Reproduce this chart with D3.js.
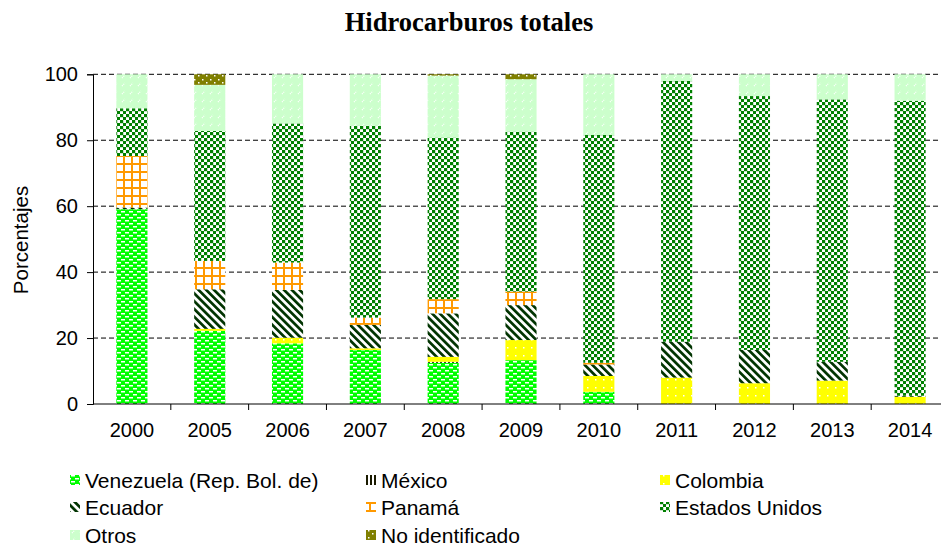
<!DOCTYPE html>
<html><head><meta charset="utf-8">
<script src="https://cdn.jsdelivr.net/npm/d3@7"></script>
<style>body{margin:0;background:#fff}svg{display:block}</style>
</head><body>
<svg id="c" width="941" height="548"></svg>
<script>
const years = ["2000","2005","2006","2007","2008","2009","2010","2011","2012","2013","2014"];
const venezuela = [59.1, 22.2, 18.4, 16.4, 12.5, 13.3, 3.7, 0, 0, 0, 0];
const mexico    = [0, 0, 0, 0, 0.3, 0, 0, 0, 0, 0, 0];
const colombia  = [0, 0.6, 1.7, 0.5, 1.5, 6.1, 4.8, 8.0, 6.3, 7.1, 2.2];
const ecuador   = [0.5, 12.0, 14.5, 7.1, 13.2, 10.6, 3.5, 10.9, 10.1, 5.7, 0.3];
const panama    = [15.6, 8.6, 8.3, 2.2, 4.3, 4.1, 0.5, 0, 0, 0, 0];
const eeuu      = [14.5, 39.4, 42.2, 58.2, 49.0, 48.5, 69.1, 79.1, 77.0, 79.6, 89.5];
const otros     = [10.3, 14.0, 14.9, 15.6, 18.8, 15.9, 18.4, 2.0, 6.6, 7.6, 8.0];
const noid      = [0, 3.2, 0, 0, 0.4, 1.5, 0, 0, 0, 0, 0];
const seriesNames = ["Venezuela (Rep. Bol. de)","México","Colombia","Ecuador","Panamá","Estados Unidos","Otros","No identificado"];
const seriesVals = [venezuela, mexico, colombia, ecuador, panama, eeuu, otros, noid];
const yTicks = [0,20,40,60,80,100];

const svg = d3.select("#c");
const defs = svg.append("defs");
function pat(id, w, h, bg, draw){
  const p = defs.append("pattern").attr("id",id).attr("patternUnits","userSpaceOnUse").attr("width",w).attr("height",h);
  p.append("rect").attr("width",w).attr("height",h).attr("fill",bg);
  draw(p); return p;
}
pat("p0",8,6,"#00ff00",p=>{
  p.append("rect").attr("x",1).attr("y",1).attr("width",4).attr("height",1.5).attr("fill","#fff");
  p.append("rect").attr("x",5).attr("y",4).attr("width",3).attr("height",1.5).attr("fill","#fff");
  p.append("rect").attr("x",0).attr("y",4).attr("width",1).attr("height",1.5).attr("fill","#fff");
});
pat("p1",4,4,"#fff",p=>{
  p.append("rect").attr("x",0).attr("y",0).attr("width",2).attr("height",4).attr("fill","#1a1a00");
});
pat("p2",8,8,"#ffff00",p=>{
  p.append("rect").attr("x",3).attr("y",3).attr("width",1.5).attr("height",1.5).attr("fill","#fff");
});
defs.append("pattern").attr("id","p3").attr("patternUnits","userSpaceOnUse").attr("width",5.5).attr("height",5.5)
  .attr("patternTransform","rotate(-45)")
  .call(p=>{p.append("rect").attr("width",5.5).attr("height",5.5).attr("fill","#fff");
            p.append("rect").attr("width",2.7).attr("height",5.5).attr("fill","#003300");});
pat("p4",8,8,"#fff",p=>{
  p.append("rect").attr("x",3).attr("y",0).attr("width",2).attr("height",8).attr("fill","#ff9900");
  p.append("rect").attr("x",0).attr("y",3).attr("width",8).attr("height",2).attr("fill","#ff9900");
});
pat("p5",6,6,"#fff",p=>{
  p.append("rect").attr("x",0).attr("y",0).attr("width",3.2).attr("height",3.2).attr("fill","#008000");
  p.append("rect").attr("x",3).attr("y",3).attr("width",3.2).attr("height",3.2).attr("fill","#008000");
});
pat("p6",8,8,"#ccffcc",p=>{
  p.append("path").attr("d","M2,6 L5,3").attr("stroke","#fff").attr("stroke-width",1.2).attr("stroke-dasharray","1,1");
});
pat("p7",8,7,"#808000",p=>{
  p.append("rect").attr("x",2).attr("y",2).attr("width",1.5).attr("height",1.5).attr("fill","#fff");
  p.append("rect").attr("x",6).attr("y",5).attr("width",1.5).attr("height",1.5).attr("fill","#fff");
});
const fills = ["url(#p0)","url(#p1)","url(#p2)","url(#p3)","url(#p4)","url(#p5)","url(#p6)","url(#p7)"];

const pL=93, pR=949, pT=74.3, pB=404;
const x = d3.scaleBand().domain(years).range([pL,pR]).paddingInner(0.6).paddingOuter(0.3);
const xb = d3.scaleBand().domain(years).range([pL,pR]);
const y = d3.scaleLinear().domain([0,100]).range([pB,pT]);
const sans = "Liberation Sans, Arial, sans-serif";

// title
svg.append("text").attr("x",469).attr("y",31).attr("text-anchor","middle")
  .attr("font-family","Liberation Serif, Times New Roman, serif").attr("font-weight","bold").attr("font-size",26.5)
  .text("Hidrocarburos totales");

// gridlines
svg.append("g").selectAll("line").data(yTicks.filter(d=>d>0)).join("line")
  .attr("x1",pL).attr("x2",941).attr("y1",d=>y(d)).attr("y2",d=>y(d))
  .attr("stroke","#000").attr("stroke-width",1).attr("stroke-dasharray","5,3");

// bars
const data = years.map((yr,i)=>{const o={year:yr}; seriesNames.forEach((s,k)=>o[s]=seriesVals[k][i]); return o;});
const stack = d3.stack().keys(seriesNames)(data);
svg.append("g").selectAll("g").data(stack).join("g").attr("fill",(d,i)=>fills[i])
  .selectAll("rect").data(d=>d).join("rect")
  .attr("x",d=>x(d.data.year)).attr("width",x.bandwidth())
  .attr("y",d=>y(d[1])).attr("height",d=>Math.max(0,y(d[0])-y(d[1])));

// y axis
const ya = svg.append("g").attr("transform",`translate(${pL},0)`)
  .call(d3.axisLeft(y).tickValues(yTicks).tickSize(6).tickPadding(9));
ya.selectAll("text").attr("font-family",sans).attr("font-size",20).attr("fill","#000");
ya.select(".domain").attr("stroke","#000");
ya.selectAll(".tick line").attr("stroke","#000");

// x axis
const xg = svg.append("g").attr("transform",`translate(0,${pB})`);
xg.append("line").attr("x1",pL).attr("x2",941).attr("stroke","#000");
xg.selectAll("line.t").data(years).join("line").attr("class","t")
  .attr("x1",d=>xb(d)+xb.bandwidth()).attr("x2",d=>xb(d)+xb.bandwidth()).attr("y1",0).attr("y2",6).attr("stroke","#000");
xg.selectAll("text").data(years).join("text")
  .attr("x",d=>xb(d)+xb.bandwidth()/2).attr("y",33).attr("text-anchor","middle")
  .attr("font-family",sans).attr("font-size",20).text(d=>d);

// y label
svg.append("text").attr("transform","translate(28,240) rotate(-90)").attr("text-anchor","middle")
  .attr("font-family",sans).attr("font-size",20.5).text("Porcentajes");

// legend
const legX = [70, 366, 660], legY = [480, 507, 535];
const leg = svg.append("g").selectAll("g").data(seriesNames).join("g")
  .attr("transform",(d,i)=>`translate(${legX[i%3]},${legY[Math.floor(i/3)]})`);
leg.append("rect").attr("x",0).attr("y",-5).attr("width",10).attr("height",10).attr("fill",(d,i)=>fills[i]);
leg.append("text").attr("x",15).attr("y",7.5).attr("font-family",sans).attr("font-size",21).text(d=>d);
</script>
</body></html>
